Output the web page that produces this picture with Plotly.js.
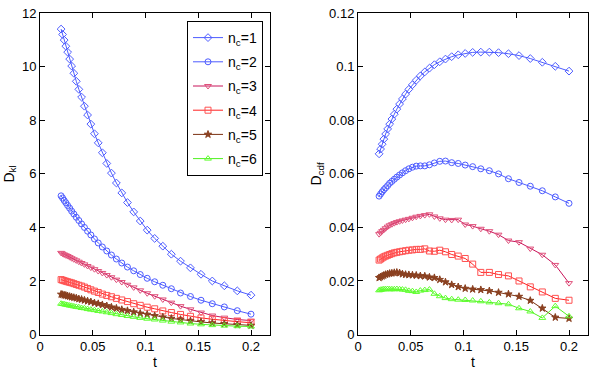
<!DOCTYPE html>
<html><head><meta charset="utf-8">
<script src="https://cdn.plot.ly/plotly-3.0.1.min.js"></script>
<style>html,body{margin:0;padding:0;background:#fff}#chart{width:595px;height:371px}</style>
</head><body><div id="chart"></div>
<script>
const t = [0.0200,0.0214,0.0229,0.0245,0.0262,0.0281,0.0300,0.0321,0.0344,0.0368,0.0394,0.0421,0.0451,0.0482,0.0516,0.0552,0.0591,0.0633,0.0677,0.0724,0.0775,0.0829,0.0888,0.0950,0.1016,0.1087,0.1164,0.1245,0.1332,0.1426,0.1526,0.1633,0.1747,0.1870,0.2000];

const dkl1 = [11.41,11.21,11.00,10.77,10.55,10.29,10.03,9.76,9.46,9.16,8.87,8.53,8.20,7.86,7.50,7.16,6.79,6.39,6.03,5.66,5.29,4.93,4.58,4.24,3.90,3.59,3.30,3.00,2.74,2.49,2.25,2.00,1.82,1.63,1.47];
const dkl2 = [5.18,5.10,5.01,4.92,4.82,4.72,4.61,4.50,4.38,4.26,4.13,4.00,3.86,3.72,3.57,3.42,3.27,3.12,2.97,2.82,2.67,2.52,2.38,2.24,2.10,1.97,1.84,1.71,1.55,1.42,1.28,1.15,1.03,0.89,0.76];
const dkl3 = [3.05,3.02,2.99,2.96,2.93,2.89,2.85,2.81,2.77,2.72,2.67,2.62,2.56,2.50,2.44,2.37,2.30,2.22,2.14,2.05,1.96,1.86,1.76,1.65,1.54,1.43,1.31,1.19,1.06,0.94,0.82,0.71,0.63,0.56,0.52];
const dkl4 = [2.05,2.03,2.01,1.99,1.97,1.95,1.93,1.90,1.87,1.84,1.81,1.77,1.72,1.67,1.62,1.57,1.51,1.46,1.41,1.35,1.29,1.23,1.15,1.09,1.02,0.96,0.88,0.82,0.75,0.68,0.62,0.57,0.52,0.48,0.44];
const dkl5 = [1.50,1.49,1.47,1.46,1.44,1.42,1.40,1.38,1.36,1.33,1.31,1.28,1.25,1.22,1.18,1.15,1.11,1.07,1.02,0.98,0.93,0.89,0.84,0.79,0.75,0.70,0.65,0.60,0.56,0.51,0.47,0.43,0.40,0.36,0.34];
const dkl6 = [1.15,1.14,1.13,1.11,1.10,1.08,1.07,1.05,1.03,1.02,0.99,0.98,0.95,0.93,0.91,0.88,0.86,0.83,0.80,0.76,0.73,0.69,0.66,0.62,0.59,0.56,0.52,0.48,0.45,0.41,0.38,0.35,0.33,0.31,0.30];

const dcdf1 = [0.0675,0.0693,0.0711,0.0730,0.0749,0.0768,0.0786,0.0805,0.0823,0.0842,0.0861,0.0880,0.0898,0.0916,0.0933,0.0950,0.0966,0.0981,0.0995,0.1008,0.1019,0.1029,0.1038,0.1045,0.1050,0.1054,0.1055,0.1055,0.1053,0.1049,0.1042,0.1031,0.1017,0.1002,0.0984];
const dcdf2 = [0.0517,0.0525,0.0533,0.0541,0.0548,0.0556,0.0565,0.0572,0.0580,0.0588,0.0596,0.0604,0.0612,0.0619,0.0625,0.0629,0.0630,0.0630,0.0634,0.0641,0.0647,0.0648,0.0642,0.0639,0.0633,0.0627,0.0619,0.0612,0.0600,0.0582,0.0568,0.0554,0.0537,0.0514,0.0490];
const dcdf3 = [0.0375,0.0380,0.0386,0.0391,0.0397,0.0403,0.0408,0.0412,0.0416,0.0420,0.0423,0.0426,0.0429,0.0432,0.0436,0.0440,0.0443,0.0446,0.0449,0.0441,0.0434,0.0429,0.0428,0.0429,0.0411,0.0405,0.0395,0.0386,0.0373,0.0351,0.0345,0.0321,0.0298,0.0260,0.0192];
const dcdf4 = [0.0278,0.0282,0.0286,0.0290,0.0293,0.0296,0.0299,0.0302,0.0305,0.0307,0.0309,0.0311,0.0313,0.0315,0.0316,0.0318,0.0318,0.0320,0.0312,0.0311,0.0315,0.0309,0.0299,0.0293,0.0284,0.0263,0.0232,0.0232,0.0224,0.0219,0.0200,0.0178,0.0159,0.0135,0.0128];
const dcdf5 = [0.0212,0.0215,0.0218,0.0221,0.0224,0.0226,0.0228,0.0229,0.0231,0.0232,0.0230,0.0226,0.0224,0.0223,0.0222,0.0221,0.0219,0.0218,0.0214,0.0212,0.0205,0.0196,0.0186,0.0178,0.0172,0.0169,0.0167,0.0163,0.0157,0.0151,0.0142,0.0127,0.0098,0.0064,0.0060];
const dcdf6 = [0.0165,0.0167,0.0168,0.0169,0.0169,0.0170,0.0169,0.0169,0.0169,0.0170,0.0169,0.0168,0.0167,0.0163,0.0162,0.0159,0.0164,0.0166,0.0168,0.0152,0.0143,0.0136,0.0132,0.0130,0.0129,0.0127,0.0124,0.0120,0.0117,0.0113,0.0098,0.0086,0.0062,0.0106,0.0068];

const seriesNames = ['n<sub>c</sub>=1','n<sub>c</sub>=2','n<sub>c</sub>=3','n<sub>c</sub>=4','n<sub>c</sub>=5','n<sub>c</sub>=6'];
const lineColors = ['#4d5cff','#4d5cff','#c8145a','#ff2020','#7a3010','#50f020'];
const markerColors = ['#4d5cff','#4d5cff','#e0507a','#ff5050','#8a4020','#60ff30'];
const symbols = ['diamond-open','circle-open','triangle-down-open','square-open','star','triangle-up-open'];
const sizes = [6,6,6,6,5.5,6];

const klData = [dkl1,dkl2,dkl3,dkl4,dkl5,dkl6];
const cdfData = [dcdf1,dcdf2,dcdf3,dcdf4,dcdf5,dcdf6];

const traces = [];
klData.forEach((ys,i)=>{
  traces.push({x:t,y:ys,xaxis:'x',yaxis:'y',type:'scatter',mode:'lines+markers',name:seriesNames[i],legendgroup:'g'+i,
    line:{color:lineColors[i],width:1},
    marker:{symbol:symbols[i],size:sizes[i],color:markerColors[i],line:{color:markerColors[i],width:1}}});
});
cdfData.forEach((ys,i)=>{
  traces.push({x:t,y:ys,xaxis:'x2',yaxis:'y2',type:'scatter',mode:'lines+markers',name:seriesNames[i],showlegend:false,legendgroup:'g'+i,
    line:{color:lineColors[i],width:1},
    marker:{symbol:symbols[i],size:sizes[i],color:markerColors[i],line:{color:markerColors[i],width:1}}});
});

const font = {family:'Liberation Sans, Arial, sans-serif',size:13,color:'#000'};
const axBase = {showline:true,linecolor:'#000',linewidth:1,mirror:'ticks',ticks:'inside',ticklen:5,tickcolor:'#000',
  showgrid:false,zeroline:false,tickfont:{family:font.family,size:13,color:'#000'}};
const xticks = {tickvals:[0,0.05,0.1,0.15,0.2],ticktext:['0','0.05','0.1','0.15','0.2']};

const layout = {
  width:595,height:371,margin:{l:0,r:0,t:0,b:0},paper_bgcolor:'#fff',plot_bgcolor:'#fff',font:font,
  showlegend:true,
  xaxis:Object.assign({},axBase,xticks,{domain:[40/595,270/595],range:[0,0.218],anchor:'y',
    title:{text:'t',font:{size:14},standoff:0}}),
  yaxis:Object.assign({},axBase,{domain:[1-334.5/371,1-13.3/371],range:[0,12],dtick:2,anchor:'x',
    title:{text:'D<sub>kl</sub>',font:{size:14},standoff:4}}),
  xaxis2:Object.assign({},axBase,xticks,{domain:[358/595,588/595],range:[0,0.218],anchor:'y2',
    title:{text:'t',font:{size:14},standoff:0}}),
  yaxis2:Object.assign({},axBase,{domain:[1-334.5/371,1-13.3/371],range:[0,0.12],anchor:'x2',
    tickvals:[0,0.02,0.04,0.06,0.08,0.1,0.12],ticktext:['0','0.02','0.04','0.06','0.08','0.1','0.12'],
    title:{text:'D<sub>cdf</sub>',font:{size:14},standoff:4}}),
  legend:{x:187/595,y:1-21/371,xanchor:'left',yanchor:'top',bgcolor:'#fff',bordercolor:'#000',borderwidth:1,
    font:{family:font.family,size:14,color:'#000'},itemwidth:30,tracegroupgap:3}
};
Plotly.newPlot('chart',traces,layout,{displayModeBar:false,staticPlot:true});
</script>
</body></html>
